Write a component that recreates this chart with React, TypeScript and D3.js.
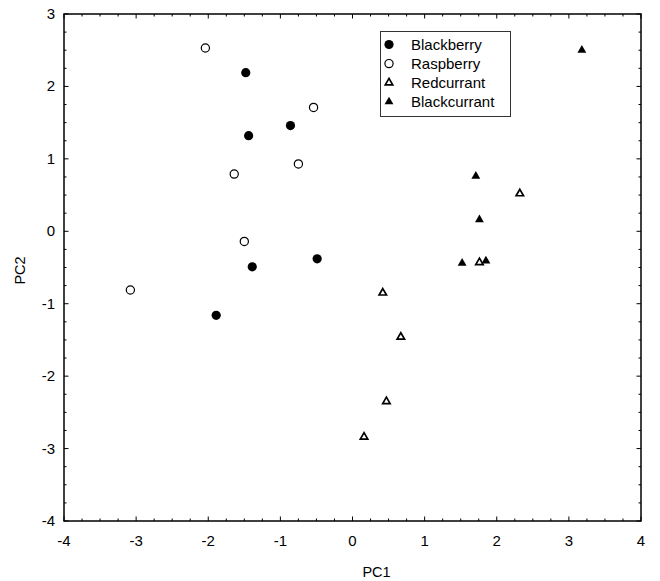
import React from 'react';
import * as d3 from 'd3';

// PCA scores
const blackberry: [number, number][] = [
  [-1.48, 2.19], [-0.86, 1.46], [-1.44, 1.32], [-1.39, -0.49], [-0.49, -0.38], [-1.89, -1.16],
];
const raspberry: [number, number][] = [
  [-2.04, 2.53], [-0.54, 1.71], [-0.75, 0.93], [-1.64, 0.79], [-1.5, -0.14], [-3.08, -0.81],
];
const redcurrant: [number, number][] = [
  [2.32, 0.52], [1.76, -0.43], [0.42, -0.85], [0.67, -1.46], [0.47, -2.35], [0.16, -2.84],
];
const blackcurrant: [number, number][] = [
  [3.18, 2.5], [1.71, 0.76], [1.76, 0.16], [1.52, -0.44], [1.85, -0.41],
];

const xTicks = [-4, -3, -2, -1, 0, 1, 2, 3, 4];
const yTicks = [-4, -3, -2, -1, 0, 1, 2, 3];
const legendLabels = ['Blackberry', 'Raspberry', 'Redcurrant', 'Blackcurrant'];

const W = 660;
const H = 581;
const left = 64, right = 641, top = 14, bottom = 521;
const font = 'Liberation Sans, Arial, Helvetica, sans-serif';

type Kind = 'dot' | 'circle' | 'tri' | 'filledTri';

const series: { kind: Kind; data: [number, number][] }[] = [
  { kind: 'dot', data: blackberry },
  { kind: 'circle', data: raspberry },
  { kind: 'tri', data: redcurrant },
  { kind: 'filledTri', data: blackcurrant },
];

const triPath = d3.symbol(d3.symbolTriangle, 34)() as string;
const openTriPath = d3.symbol(d3.symbolTriangle, 24)() as string;

function Marker({ kind, x, y }: { kind: Kind; x: number; y: number }) {
  if (kind === 'dot') return <circle cx={x} cy={y} r={4.6} fill="#000" />;
  if (kind === 'circle')
    return <circle cx={x} cy={y} r={4.1} fill="#fff" stroke="#000" strokeWidth={1.2} />;
  if (kind === 'tri')
    return (
      <path d={openTriPath} transform={`translate(${x},${y})`} fill="#fff" stroke="#000" strokeWidth={1.7} />
    );
  return <path d={triPath} transform={`translate(${x},${y})`} fill="#000" />;
}

export default function App() {
  const x = d3.scaleLinear().domain([-4, 4]).range([left, right]);
  const y = d3.scaleLinear().domain([-4, 3]).range([bottom, top]);

  const xMinor = d3.range(-4, 4.001, 0.25);
  const yMinor = d3.range(-4, 3.001, 0.25);

  const ticks: JSX.Element[] = [];
  xMinor.forEach((v, i) => {
    const len = Number.isInteger(v) ? 4.5 : 2.5;
    const px = x(v);
    ticks.push(<line key={`xb${i}`} x1={px} x2={px} y1={bottom} y2={bottom - len} stroke="#000" />);
    ticks.push(<line key={`xt${i}`} x1={px} x2={px} y1={top} y2={top + len} stroke="#000" />);
  });
  yMinor.forEach((v, i) => {
    const len = Number.isInteger(v) ? 4.5 : 2.5;
    const py = y(v);
    ticks.push(<line key={`yl${i}`} x1={left} x2={left + len} y1={py} y2={py} stroke="#000" />);
    ticks.push(<line key={`yr${i}`} x1={right} x2={right - len} y1={py} y2={py} stroke="#000" />);
  });

  return (
    <svg width={W} height={H} style={{ position: 'absolute', left: 0, top: 0, background: '#fff' }} fontFamily={font}>
      <rect x={0} y={0} width={W} height={H} fill="#fff" />
      {ticks}
      <rect x={left} y={top} width={right - left} height={bottom - top} fill="none" stroke="#000" strokeWidth={1.5} />

      {xTicks.map((v) => (
        <text key={`xl${v}`} x={x(v)} y={546} textAnchor="middle" fontSize={15} fill="#000">
          {v}
        </text>
      ))}
      {yTicks.map((v) => (
        <text key={`yl${v}`} x={55} y={y(v) + 5} textAnchor="end" fontSize={15} fill="#000">
          {v}
        </text>
      ))}

      <text x={(left + right) / 2 + 24} y={577} textAnchor="middle" fontSize={14.5} fill="#000">PC1</text>
      <text transform={`translate(25,${(top + bottom) / 2 + 3}) rotate(-90)`} textAnchor="middle" fontSize={14.5} fill="#000">
        PC2
      </text>

      {series.map((s, si) =>
        s.data.map((d, i) => <Marker key={`${si}-${i}`} kind={s.kind} x={x(d[0])} y={y(d[1])} />)
      )}

      <rect x={380.5} y={31.5} width={130} height={85} fill="#fff" stroke="#333" strokeWidth={1} />
      {legendLabels.map((label, i) => (
        <g key={label}>
          <Marker kind={series[i].kind} x={389} y={44.5 + i * 19.1} />
          <text x={411} y={44.5 + i * 19.1 + 5.5} fontSize={15} fill="#000">
            {label}
          </text>
        </g>
      ))}
    </svg>
  );
}
